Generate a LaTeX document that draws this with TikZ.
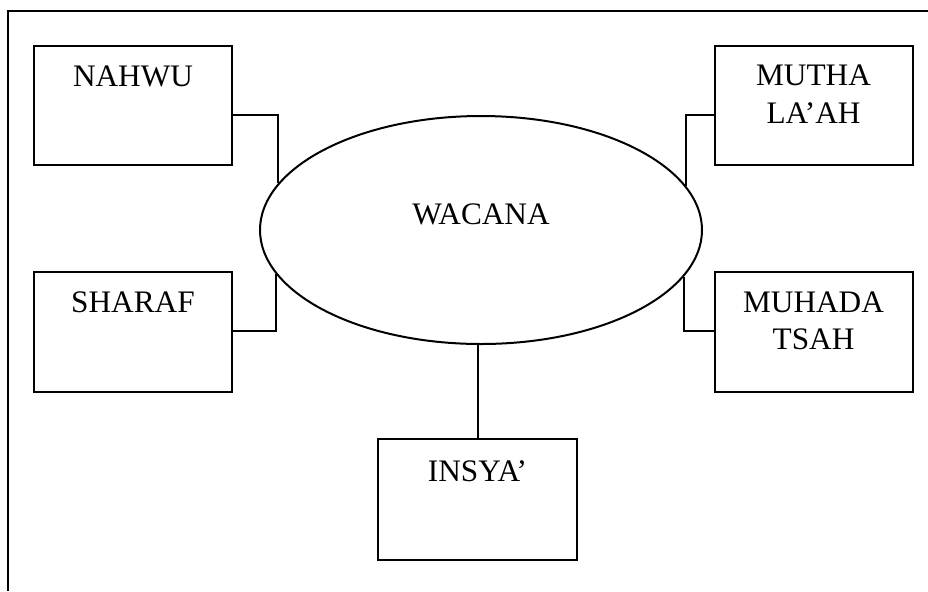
\documentclass[tikz,border=0pt]{standalone}
\usepackage{fontspec}
\setmainfont{Liberation Serif}
\usetikzlibrary{shapes.geometric}
\begin{document}
\begin{tikzpicture}[x=0.5pt,y=-0.5pt,
  line width=1pt,
  boxnode/.style={draw,rectangle,minimum width=99pt,minimum height=59.5pt,inner sep=0pt},
  lbl/.style={anchor=base,inner sep=0pt,font=\fontsize{15.65}{18.8}\selectfont},
  conn/.style={line width=1pt}]
\useasboundingbox (0,0) rectangle (928,591);
% outer frame (top and left only)
\draw (928,11) -- (8,11) -- (8,591);
% central ellipse
\node[draw,ellipse,minimum width=221pt,minimum height=114pt,inner sep=0pt] (wacana) at (481,230) {};
\node[lbl] (wacanat) at (481,224) {WACANA};
% boxes
\node[boxnode] (nahwu) at (133,105.5) {};
\node[boxnode] (mutha) at (813.5,105.5) {};
\node[boxnode,minimum height=60pt] (sharaf) at (133,332) {};
\node[boxnode,minimum height=60pt] (muhada) at (813.5,332) {};
\node[boxnode,minimum width=99.5pt,minimum height=60.5pt] (insya) at (477.5,499.5) {};
% labels
\node[lbl] (nahwut) at (133,86) {NAHWU};
\node[lbl] (mutht1) at (813.5,85) {MUTHA};
\node[lbl] (mutht2) at (813.5,123) {LA’AH};
\node[lbl] (sharaft) at (133,312) {SHARAF};
\node[lbl] (muhat1) at (813.5,312) {MUHADA};
\node[lbl] (muhat2) at (813.5,349) {TSAH};
\node[lbl] (insyat) at (477.5,481) {INSYA’};
% connector levels
\coordinate (ytop) at (0,115);
\coordinate (ybot) at (0,331);
% connectors
\draw[conn] (nahwu.east |- ytop) -| (wacana.167.2);
\draw[conn] (sharaf.east |- ybot) -| (wacana.192.8);
\draw[conn] (mutha.west |- ytop) -| (wacana.12.8);
\draw[conn] (muhada.west |- ybot) -| (wacana.347.2);
\draw[conn] (insya.north) -- (insya.north |- wacana.south);
\end{tikzpicture}
\end{document}
